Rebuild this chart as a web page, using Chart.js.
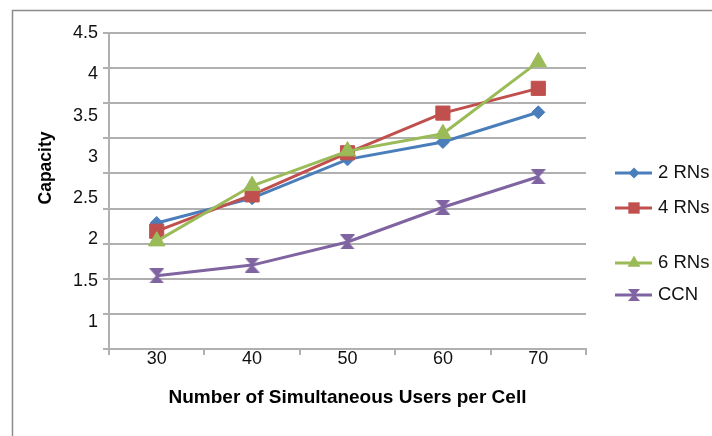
<!DOCTYPE html>
<html>
<head>
<meta charset="utf-8">
<script src="https://cdn.jsdelivr.net/npm/chart.js@4.4.1/dist/chart.umd.min.js"></script>
<style>
  html, body { margin: 0; padding: 0; background: #fff; }
  #wrap { width: 712px; height: 436px; position: relative; }
</style>
</head>
<body>
<div id="wrap"><canvas id="capacityChart" width="712" height="436"></canvas></div>
<script>
// Users per cell (x categories)
const users = ['30', '40', '50', '60', '70'];

// Capacity per scheme
const rn2 = [2.2, 2.5, 2.97, 3.18, 3.54];
const rn4 = [2.1, 2.54, 3.05, 3.53, 3.83];
const rn6 = [1.98, 2.65, 3.07, 3.28, 4.15];
const ccn = [1.56, 1.69, 1.97, 2.39, 2.76];

// Labelled capacity ticks
const capacityTicks = [1, 1.5, 2, 2.5, 3, 3.5, 4, 4.5];

const FONT = '"Liberation Sans", Arial, Helvetica, sans-serif';
const GRID = '#b0b0b0';

// Filled hourglass marker used for the CCN series
function hourglass(color, s) {
  const c = document.createElement('canvas');
  c.width = s; c.height = s;
  const g = c.getContext('2d');
  g.fillStyle = color;
  g.beginPath();
  g.moveTo(0, 0); g.lineTo(s, 0);
  g.lineTo(s / 2 + 1, s / 2);
  g.lineTo(s, s); g.lineTo(0, s);
  g.lineTo(s / 2 - 1, s / 2);
  g.closePath();
  g.fill();
  return c;
}

const PURPLE = '#8064a2';
const ccnMarker = hourglass(PURPLE, 15);
const ccnLegendMarker = hourglass(PURPLE, 12);

// Legend rows on the right-hand side
const legendRows = [173, 208, 263, 295];
const legendMarks = [
  { pointStyle: 'rectRot', radius: 5.5 },
  { pointStyle: 'rect', radius: 8 },
  { pointStyle: 'triangle', radius: 7.5 },
  { pointStyle: ccnLegendMarker, radius: 6 }
];

const frame = {
  id: 'frame',
  beforeDraw(chart) {
    const ctx = chart.ctx;
    ctx.save();
    ctx.fillStyle = '#fff';
    ctx.fillRect(0, 0, chart.width, chart.height);
    ctx.strokeStyle = '#8c8c8c';
    ctx.lineWidth = 1.5;
    ctx.strokeRect(12.5, 10.5, 760, 480);
    ctx.restore();
  }
};

const yTitle = {
  id: 'yTitle',
  afterDraw(chart) {
    const ctx = chart.ctx;
    ctx.save();
    ctx.translate(46, 168);
    ctx.rotate(-Math.PI / 2);
    ctx.fillStyle = '#000';
    ctx.font = 'bold 17.5px ' + FONT;
    ctx.textAlign = 'center';
    ctx.textBaseline = 'middle';
    ctx.fillText('Capacity', 0, 0);
    ctx.restore();
  }
};

const sideLegend = {
  id: 'sideLegend',
  afterDraw(chart) {
    const ctx = chart.ctx;
    chart.data.datasets.forEach((ds, i) => {
      const y = legendRows[i];
      ctx.save();
      ctx.strokeStyle = ds.borderColor;
      ctx.lineWidth = 3;
      ctx.beginPath();
      ctx.moveTo(615, y);
      ctx.lineTo(652, y);
      ctx.stroke();
      ctx.fillStyle = ds.borderColor;
      ctx.strokeStyle = ds.borderColor;
      Chart.helpers.drawPoint(ctx, {
        pointStyle: legendMarks[i].pointStyle,
        radius: legendMarks[i].radius,
        rotation: 0,
        borderWidth: 0
      }, 634, y);
      ctx.fillStyle = '#111';
      ctx.font = '18.5px ' + FONT;
      ctx.textAlign = 'left';
      ctx.textBaseline = 'middle';
      ctx.fillText(ds.label, 658, y);
      ctx.restore();
    });
  }
};

function series(label, data, color, style, radius, order) {
  return {
    label, data,
    yAxisID: 'y',
    borderColor: color,
    backgroundColor: color,
    borderWidth: 3,
    pointStyle: style,
    pointRadius: radius,
    pointHoverRadius: radius,
    pointBackgroundColor: color,
    pointBorderColor: color,
    pointBorderWidth: 1,
    tension: 0,
    fill: false,
    order
  };
}

new Chart(document.getElementById('capacityChart'), {
  type: 'line',
  data: {
    labels: users,
    datasets: [
      series('2 RNs', rn2, '#4a7ebb', 'rectRot', 6.5, 4),
      series('4 RNs', rn4, '#c0504d', 'rect', 10, 3),
      series('6 RNs', rn6, '#9bbb59', 'triangle', 9.5, 2),
      series('CCN', ccn, PURPLE, ccnMarker, 7.5, 1)
    ]
  },
  options: {
    responsive: false,
    animation: false,
    devicePixelRatio: 1,
    layout: { padding: { left: 43, right: 126, top: 33, bottom: 0 } },
    plugins: {
      legend: { display: false },
      tooltip: { enabled: false },
      title: { display: false }
    },
    scales: {
      x: {
        type: 'category',
        offset: true,
        grid: {
          display: true, drawOnChartArea: false, drawTicks: true,
          tickLength: 6, offset: true, color: GRID, lineWidth: 2
        },
        border: { display: true, color: GRID, width: 2 },
        ticks: {
          color: '#111', font: { family: FONT, size: 18 },
          padding: -7, maxRotation: 0, autoSkip: false
        },
        title: {
          display: true,
          text: 'Number of Simultaneous Users per Cell',
          color: '#000',
          font: { family: FONT, size: 19, weight: 'bold' },
          padding: { top: 0, bottom: 27 }
        },
        afterFit(s) { s.height = 87; }
      },
      y: {
        position: 'left',
        weight: 10,
        min: 0.674,
        max: 4.5,
        grid: { display: false, drawTicks: false },
        border: { display: false },
        ticks: {
          color: '#111', font: { family: FONT, size: 18 },
          padding: 5, autoSkip: false,
          callback: v => String(v)
        },
        afterBuildTicks(s) { s.ticks = capacityTicks.map(v => ({ value: v })); },
        afterFit(s) { s.width = 60; }
      },
      y2: {
        position: 'left',
        weight: 0,
        min: 0,
        max: 9,
        ticks: { display: false, stepSize: 1 },
        grid: { display: true, drawOnChartArea: true, drawTicks: true, tickLength: 6, color: GRID, lineWidth: 2 },
        border: { display: true, color: GRID, width: 2 },
        afterFit(s) { s.width = 6; }
      }
    }
  },
  plugins: [frame, yTitle, sideLegend]
});
</script>
</body>
</html>
